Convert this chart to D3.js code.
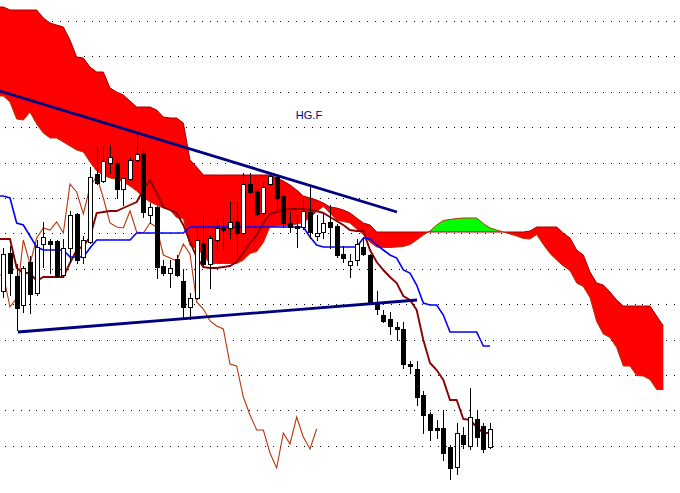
<!DOCTYPE html>
<html><head><meta charset="utf-8">
<script src="https://cdn.jsdelivr.net/npm/d3@7"></script>
<style>html,body{margin:0;padding:0;background:#fff;overflow:hidden}</style>
</head><body><svg id="c" width="680" height="493"></svg>
<script>
const title = "HG.F";
const opens = [3.330,3.368,3.345,3.316,3.359,3.328,3.377,3.380,3.380,3.346,
 3.373,3.407,3.364,3.379,3.447,3.440,3.458,3.458,3.432,3.442,
 3.461,3.468,3.406,3.414,3.355,3.348,3.362,3.340,3.314,3.323,
 3.378,3.357,3.381,3.393,3.393,3.400,3.388,3.437,3.430,3.408,
 3.437,3.444,3.425,3.398,3.395,3.394,3.409,3.385,3.389,3.399,
 3.395,3.367,3.356,3.361,3.374,3.366,3.319,3.306,3.302,3.294,
 3.292,3.257,3.252,3.226,3.207,3.193,3.193,3.174,3.154,3.186,
 3.175,3.202,3.195,3.174];
const highs = [3.373,3.375,3.357,3.355,3.365,3.381,3.399,3.382,3.381,3.382,
 3.410,3.408,3.385,3.454,3.474,3.474,3.476,3.463,3.443,3.463,
 3.488,3.471,3.418,3.415,3.361,3.361,3.366,3.352,3.328,3.393,
 3.406,3.385,3.403,3.404,3.419,3.419,3.448,3.448,3.432,3.439,
 3.448,3.446,3.426,3.409,3.406,3.424,3.434,3.406,3.407,3.416,
 3.397,3.375,3.367,3.382,3.384,3.367,3.330,3.311,3.309,3.299,
 3.299,3.260,3.260,3.230,3.209,3.201,3.211,3.176,3.198,3.194,
 3.233,3.211,3.198,3.198];
const lows = [3.324,3.326,3.291,3.309,3.308,3.326,3.354,3.348,3.344,3.345,
 3.359,3.358,3.358,3.378,3.437,3.439,3.448,3.423,3.416,3.441,
 3.460,3.404,3.398,3.343,3.346,3.334,3.345,3.304,3.302,3.322,
 3.356,3.333,3.371,3.371,3.383,3.367,3.387,3.428,3.406,3.407,
 3.436,3.411,3.394,3.389,3.374,3.392,3.383,3.381,3.383,3.373,
 3.364,3.359,3.344,3.356,3.366,3.318,3.307,3.299,3.287,3.281,
 3.253,3.248,3.216,3.188,3.181,3.183,3.161,3.142,3.147,3.173,
 3.172,3.176,3.169,3.173];
const closes = [3.367,3.348,3.313,3.353,3.327,3.374,3.384,3.377,3.345,3.373,
 3.406,3.361,3.381,3.444,3.438,3.460,3.464,3.432,3.443,3.461,
 3.467,3.409,3.414,3.354,3.348,3.353,3.346,3.314,3.323,3.381,
 3.357,3.383,3.393,3.391,3.399,3.388,3.437,3.429,3.407,3.434,
 3.445,3.423,3.398,3.394,3.393,3.410,3.389,3.388,3.398,3.394,
 3.366,3.363,3.360,3.377,3.367,3.319,3.312,3.300,3.295,3.292,
 3.257,3.255,3.224,3.206,3.191,3.191,3.168,3.153,3.188,3.177,
 3.204,3.184,3.172,3.192];
const tenkan = [3.382,3.382,3.353,3.348,3.348,3.340,3.344,3.344,3.344,3.344,
 3.358,3.371,3.375,3.384,3.408,3.409,3.410,3.410,3.413,3.416,
 3.419,3.431,3.441,3.428,3.414,3.411,3.408,3.396,3.379,3.364,
 3.354,3.353,3.353,3.354,3.355,3.359,3.368,3.378,3.386,3.398,
 3.407,3.409,3.411,3.412,3.412,3.412,3.411,3.410,3.408,3.404,
 3.400,3.396,3.391,3.390,3.390,3.371,3.359,3.351,3.344,3.338,
 3.325,3.321,3.311,3.281,3.258,3.251,3.241,3.221,3.221,3.202,
 3.201,3.194,3.188,3.188];
const kijun = [3.425,3.423,3.398,3.396,3.385,3.374,3.371,3.371,3.371,3.371,
 3.364,3.364,3.364,3.373,3.381,3.381,3.381,3.381,3.381,3.381,
 3.388,3.388,3.388,3.388,3.388,3.388,3.388,3.388,3.394,3.394,
 3.394,3.394,3.394,3.394,3.394,3.394,3.394,3.394,3.394,3.394,
 3.394,3.394,3.394,3.394,3.394,3.394,3.384,3.376,3.374,3.374,
 3.374,3.374,3.374,3.374,3.383,3.382,3.376,3.371,3.366,3.363,
 3.351,3.348,3.336,3.318,3.316,3.316,3.306,3.289,3.289,3.289,
 3.289,3.289,3.275,3.275];
// Senkou span A for the 26 bars plotted before the first visible candle's projection
const senkouALead = [3.525,3.519,3.502,3.501,3.509,3.497,3.488,3.483,3.483,3.479,
 3.475,3.471,3.469,3.459,3.450,3.446,3.443,3.442,3.439,3.435,
 3.430,3.424,3.419,3.416,3.413,3.411];
const senkouB = [3.614,3.611,3.611,3.611,3.611,3.611,3.603,3.598,3.596,3.594,
 3.581,3.564,3.563,3.554,3.549,3.549,3.533,3.529,3.526,3.520,
 3.514,3.514,3.514,3.511,3.504,3.503,3.503,3.498,3.461,3.454,
 3.446,3.446,3.446,3.446,3.446,3.446,3.446,3.446,3.446,3.446,
 3.446,3.443,3.440,3.436,3.431,3.425,3.423,3.421,3.418,3.414,
 3.413,3.411,3.408,3.403,3.398,3.396,3.389,3.389,3.389,3.389,
 3.389,3.389,3.389,3.389,3.389,3.389,3.389,3.389,3.389,3.389,
 3.389,3.389,3.389,3.389,3.389,3.389,3.389,3.389,3.389,3.390,
 3.394,3.394,3.394,3.394,3.388,3.383,3.371,3.366,3.349,3.338,
 3.336,3.329,3.321,3.315,3.315,3.315,3.315,3.315,3.305,3.295];
const gridLevels = [3.600,3.565,3.529,3.494,3.458,3.423,3.388,3.352,3.317,3.281,3.246,3.211,3.175];
const trendUpper = [{i:-0.5,p:3.530},{i:59.05,p:3.409}];
const trendLower = [{i:2.2,p:3.289},{i:62.05,p:3.321}];
const shift = 26;

const W = 680, H = 493;
const svg = d3.select("#c");
const x = d3.scaleLinear().domain([0, 99]).range([3.33, 663.33]);
const y = d3.scaleLinear().domain([3.621, 3.128]).range([0, H]);

// grid
svg.append("g").selectAll("line").data(gridLevels).join("line")
  .attr("x1", 5).attr("x2", W)
  .attr("y1", d => Math.round(y(d)) + 0.5).attr("y2", d => Math.round(y(d)) + 0.5)
  .attr("stroke", "#000").attr("stroke-width", 1)
  .attr("stroke-dasharray", "1,6.87").attr("shape-rendering", "crispEdges");

// cloud
const spanA = senkouALead.concat(tenkan.map((t, i) => (t + kijun[i]) / 2));
const pts = [];
for (let j = 0; j < senkouB.length; j++) {
  pts.push({i: j, a: spanA[j], b: senkouB[j]});
  if (j < senkouB.length - 1) {
    const d0 = spanA[j] - senkouB[j], d1 = spanA[j+1] - senkouB[j+1];
    if (d0 * d1 < 0) {
      const t = d0 / (d0 - d1);
      const v = senkouB[j] + t * (senkouB[j+1] - senkouB[j]);
      pts.push({i: j + t, a: v, b: v});
    }
  }
}
const cloudPts = [{i: -0.5, a: pts[0].a, b: pts[0].b}].concat(pts);
const redArea = d3.area().x(d => x(d.i)).y0(d => y(d.b)).y1(d => y(Math.min(d.a, d.b)));
const greenArea = d3.area().x(d => x(d.i)).y0(d => y(d.b)).y1(d => y(Math.max(d.a, d.b)));
svg.append("path").datum(cloudPts).attr("d", redArea).attr("fill", "#ff0000");
svg.append("path").datum(cloudPts).attr("d", greenArea).attr("fill", "#00ff00");

const ext = arr => [{i: -0.5, v: arr[0]}].concat(arr.map((v, i) => ({i, v})));
const line = d3.line().x(d => x(d.i)).y(d => y(d.v));
svg.append("path").datum(ext(senkouB)).attr("d", line).attr("fill", "none")
  .attr("stroke", "#a00000").attr("stroke-width", 1);
svg.append("path").datum(ext(spanA)).attr("d", line).attr("fill", "none")
  .attr("stroke", "#b83000").attr("stroke-width", 1);

// chikou span = closes shifted back
const chikou = closes.slice(shift);
svg.append("path").datum(ext(chikou)).attr("d", line).attr("fill", "none")
  .attr("stroke", "#b8360a").attr("stroke-width", 1.1);
// tenkan
svg.append("path").datum(ext(tenkan)).attr("d", line).attr("fill", "none")
  .attr("stroke", "#8b0000").attr("stroke-width", 1.9);
// kijun
svg.append("path").datum(ext(kijun)).attr("d", line).attr("fill", "none")
  .attr("stroke", "#0000ff").attr("stroke-width", 1.6);

// candles
const candles = opens.map((o, i) => ({i, o, h: highs[i], l: lows[i], c: closes[i]}));
const cg = svg.append("g").attr("shape-rendering", "crispEdges");
const cx = d => Math.round(x(d.i)) + 0.5;
cg.selectAll("line").data(candles).join("line")
  .attr("x1", cx).attr("x2", cx)
  .attr("y1", d => Math.round(y(d.h))).attr("y2", d => Math.round(y(d.l)) + 1)
  .attr("stroke", "#000").attr("stroke-width", 1);
cg.selectAll("rect").data(candles).join("rect")
  .attr("x", d => cx(d) - 2).attr("width", 4)
  .attr("y", d => Math.round(y(Math.max(d.o, d.c))) + 0.5)
  .attr("height", d => Math.max(0, Math.round(y(Math.min(d.o, d.c))) - Math.round(y(Math.max(d.o, d.c)))))
  .attr("fill", d => d.c >= d.o ? "#fff" : "#000")
  .attr("stroke", "#000").attr("stroke-width", 1);

// trend lines
const tl = d3.line().x(d => x(d.i)).y(d => y(d.p));
[trendUpper, trendLower].forEach(t => {
  svg.append("path").datum(t).attr("d", tl).attr("fill", "none")
    .attr("stroke", "#000080").attr("stroke-width", 2.8);
});

svg.append("text").attr("x", 309).attr("y", 119).attr("text-anchor", "middle")
  .attr("font-family", "Arial, 'Liberation Sans', sans-serif").attr("font-size", 11)
  .attr("fill", "#000080").text(title);
</script>
</body></html>
